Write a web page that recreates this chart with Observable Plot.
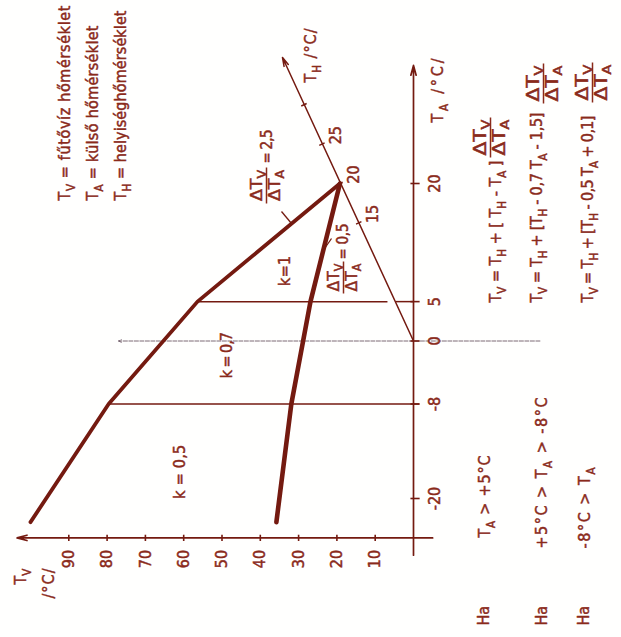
<!DOCTYPE html>
<html><head><meta charset="utf-8">
<script src="https://cdn.jsdelivr.net/npm/d3@7"></script>
<script src="https://cdn.jsdelivr.net/npm/@observablehq/plot@0.6"></script>
<style>
html,body{margin:0;padding:0;background:#fffffe;}
#chart svg{display:block;}
</style>
</head><body><div id="chart"></div>
<script>
// ---- data (TA = outdoor temp, TV = supply water temp, °C) ----
const tvTicks = [10, 20, 30, 40, 50, 60, 70, 80, 90];
const taTicks = [-20, -8, 0, 5, 20];
const thTickTA = [15, 20, 25, 30];
const thTickTV = [14.3, 19.2, 23.9, 28.6];
const thTickLabels = ["15", "20", "25", ""];
const breakTA = [20, 5, -8, -23];
const upperTV = [19.2, 56.4, 79.6, 100];   // ΔTv/ΔTA = 2,5
const lowerTV = [19.2, 26.9, 31.9, 35.8];  // ΔTv/ΔTA = 0,5
const kLabels = ["k = 1", "k = 0,7", "k = 0,5"];
const kTA = [8.9, -1.8, -16.6];
const kTV = [33.5, 48.6, 61];
const legendLines = ["T_V = fűtővíz hőmérséklet", "T_A = külső hőmérséklet", "T_H = helyiséghőmérséklet"];
const formulas = ["T_V = T_H + [ T_H - T_A ]", "T_V = T_H + [T_H - 0,7 T_A - 1,5]", "T_V = T_H + [T_H - 0,5 T_A + 0,1]"];
const conditions = ["T_A > +5°C", "+5°C > T_A > -8°C", "-8°C > T_A"];

const TEXT = "#8a2a1b", LINE = "#741a10", THIN = "#6e5a68";
const FONT = "'DejaVu Sans Condensed', 'DejaVu Sans', sans-serif";
const FS = 16;

const xOpt = {type: "linear", domain: [0, 100], range: [413, 30], axis: null};
const yOpt = {type: "linear", domain: [-20, 20], range: [498, 183], axis: null};
const sx = Plot.scale({x: xOpt});
const sy = Plot.scale({y: yOpt});
const tvAt = px => sx.invert(px);
const taAt = py => sy.invert(py);

const upper = breakTA.map((ta, i) => ({ta, tv: upperTV[i]}));
const lower = breakTA.map((ta, i) => ({ta, tv: lowerTV[i]}));
const thTicks = thTickTA.map((ta, i) => ({ta, tv: thTickTV[i], label: thTickLabels[i]}));
const tvAxisTA = -25;

const txt = {fill: TEXT, stroke: TEXT, strokeWidth: 0.45, rotate: -90};
// "§n" suffix = rendered length hint ("§§n" = stretch glyphs too), applied after rendering
const withLen = (s, len, glyphs) => len ? s + (glyphs ? "§§" : "§") + len : s;

// rotated text placed at a pixel position (baseline at bx, start at by)
function rtext(str, bx, by, fs, anchor = "start", line = "bottom", len = 0) {
  return Plot.text([str], {...txt, text: d => withLen(d, len), frameAnchor: "top-left", dx: bx, dy: by,
    textAnchor: anchor, lineAnchor: line, fontSize: fs});
}
function fraction(cx, cy, half, num, den, fs, len) {
  return [
    Plot.text([num], {...txt, text: d => withLen(d, len, true), frameAnchor: "top-left", dx: cx - 5, dy: cy, textAnchor: "middle", lineAnchor: "bottom", fontSize: fs}),
    Plot.text([den], {...txt, text: d => withLen(d, len, true), frameAnchor: "top-left", dx: cx + 2.5, dy: cy, textAnchor: "middle", lineAnchor: "top", fontSize: fs}),
    Plot.link([0], {x1: tvAt(cx), x2: tvAt(cx), y1: taAt(cy - half), y2: taAt(cy + half), stroke: TEXT, strokeWidth: 1.5})
  ];
}

const marks = [
  // TA = 0 thin reference line
  Plot.arrow([0], {x1: -33, x2: 77, y1: 0, y2: 0, stroke: THIN, strokeWidth: 0.9, strokeDasharray: "4,1.5", headLength: 5, headAngle: 50}),
  // connecting lines at the break points
  Plot.link([{ta: 5, a: upperTV[1], b: 6.8}, {ta: 5, a: 4.6, b: 0}, {ta: -8, a: upperTV[2], b: -1.5}],
    {x1: "a", x2: "b", y1: "ta", y2: "ta", stroke: LINE, strokeWidth: 1.5}),
  // TA axis
  Plot.arrow([0], {x1: 0, x2: 0, y1: -27.2, y2: 35, stroke: LINE, strokeWidth: 1.7, headLength: 9, headAngle: 30}),
  // TV axis
  Plot.arrow([0], {x1: -5, x2: 103.5, y1: tvAxisTA, y2: tvAxisTA, stroke: LINE, strokeWidth: 1.7, headLength: 9, headAngle: 30}),
  // TV ticks
  Plot.link(tvTicks, {x1: d => d, x2: d => d, y1: tvAxisTA + 0.4, y2: tvAxisTA - 0.4, stroke: LINE, strokeWidth: 1.6}),
  Plot.text(tvTicks, {...txt, x: d => d, y: tvAxisTA, dy: 12, text: d => String(d), textAnchor: "end", lineAnchor: "middle", fontSize: FS}),
  // TA ticks
  Plot.link(taTicks, {y1: d => d, y2: d => d, x1: 0.8, x2: -1.6, stroke: LINE, strokeWidth: 1.6}),
  Plot.text(taTicks, {...txt, x: 0, y: d => d, dx: 26, text: d => String(d), textAnchor: "middle", lineAnchor: "bottom", fontSize: FS}),
  // TH axis
  Plot.arrow([0], {x1: 0, y1: 0, x2: 34.2, y2: 36, stroke: LINE, strokeWidth: 1.5, headLength: 9, headAngle: 30}),
  Plot.link(thTicks, {x1: d => d.tv - 0.7, x2: d => d.tv + 0.7, y1: d => d.ta + 0.16, y2: d => d.ta - 0.16, stroke: LINE, strokeWidth: 1.5}),
  Plot.text(thTicks, {...txt, x: "tv", y: "ta", text: "label", dx: 19, dy: -9, textAnchor: "middle", lineAnchor: "bottom", fontSize: FS}),
  // heavy heating curves
  Plot.line(upper, {x: "tv", y: "ta", stroke: LINE, strokeWidth: 3.8, strokeLinejoin: "round", strokeLinecap: "round"}),
  Plot.line(lower, {x: "tv", y: "ta", stroke: LINE, strokeWidth: 4.6, strokeLinejoin: "round", strokeLinecap: "round"}),
  // leader lines of the slope labels
  Plot.link([0], {x1: tvAt(281), y1: taAt(211), x2: tvAt(291), y2: taAt(223), stroke: LINE, strokeWidth: 1.3}),
  Plot.link([0], {x1: tvAt(331), y1: taAt(238), x2: tvAt(322), y2: taAt(251), stroke: LINE, strokeWidth: 1.3}),
  // k labels
  Plot.text(kLabels, {...txt, x: (d, i) => kTV[i], y: (d, i) => kTA[i], text: (d, i) => withLen(d, [30, 46, 54][i]), textAnchor: "middle", lineAnchor: "middle", fontSize: FS}),
  // slope labels
  ...fraction(266, 185, 18, "ΔT_V", "ΔT_A", 16, 31),
  rtext("= 2,5", 267, 163, 15, "start", "middle", 34),
  ...fraction(343, 277, 16, "ΔT_V", "ΔT_A", 16, 28),
  rtext("= 0,5", 343, 259, 15, "start", "middle", 36),
  // axis titles
  rtext("T_V", 25, 584, FS),
  rtext("/°C/", 53, 598, FS, "start", "bottom", 30),
  rtext("T_A /°C/", 442, 122, FS, "start", "bottom", 64),
  rtext("T_H /°C/", 315, 82, FS, "start", "bottom", 54),
  // legend
  ...legendLines.map((s, i) => rtext(s, [69, 97, 125][i], 200, FS, "start", "bottom", [195, 175, 190][i])),
  // formulas
  ...formulas.map((s, i) => rtext(s, [500, 541, 592][i], 302, FS, "start", "bottom", [142, 190, 187][i])),
  ...fraction(490, 137, 20, "ΔT_V", "ΔT_A", 17, 36),
  ...fraction(543, 83, 20, "ΔT_V", "ΔT_A", 17, 36),
  ...fraction(592, 82, 20, "ΔT_V", "ΔT_A", 17, 36),
  // conditions
  ...[488, 546, 588].map(bx => rtext("Ha", bx, 625, FS)),
  ...conditions.map((s, i) => rtext(s, [489, 546, 589][i], [537, 548, 548][i], FS, "start", "bottom", [82, 151, 81][i]))
];

const svg = Plot.plot({
  width: 621, height: 637,
  marginTop: 0, marginRight: 0, marginBottom: 0, marginLeft: 0,
  x: xOpt, y: yOpt,
  style: {fontFamily: FONT, background: "#fffffe", color: TEXT, overflow: "visible"},
  marks
});
document.getElementById("chart").append(svg);

// post-process: subscripts ("_X") and length hints ("§n" / "§§n")
const NS = "http://www.w3.org/2000/svg";
svg.querySelectorAll("text").forEach(t => {
  let s = t.textContent;
  let len = 0, glyphs = false;
  const k = s.indexOf("§");
  if (k >= 0) {
    glyphs = s[k + 1] === "§";
    len = +s.slice(k + (glyphs ? 2 : 1));
    s = s.slice(0, k);
  }
  if (!s.includes("_") && !len) return;
  const fs = parseFloat(getComputedStyle(t).fontSize) || FS;
  const shift = Math.round(fs * (glyphs ? 0.22 : 0.3));
  while (t.firstChild) t.removeChild(t.firstChild);
  let lowered = false;
  for (const p of s.split(/(_.)/)) {
    if (!p) continue;
    const ts = document.createElementNS(NS, "tspan");
    if (p.length === 2 && p[0] === "_") {
      ts.textContent = p[1];
      ts.setAttribute("font-size", (fs * 0.72).toFixed(1));
      ts.setAttribute("dy", shift);
      lowered = true;
    } else {
      ts.textContent = p;
      if (lowered) { ts.setAttribute("dy", -shift); lowered = false; }
    }
    t.appendChild(ts);
  }
  if (len) { t.setAttribute("textLength", len); t.setAttribute("lengthAdjust", glyphs ? "spacingAndGlyphs" : "spacing"); }
});
</script>
</body></html>
